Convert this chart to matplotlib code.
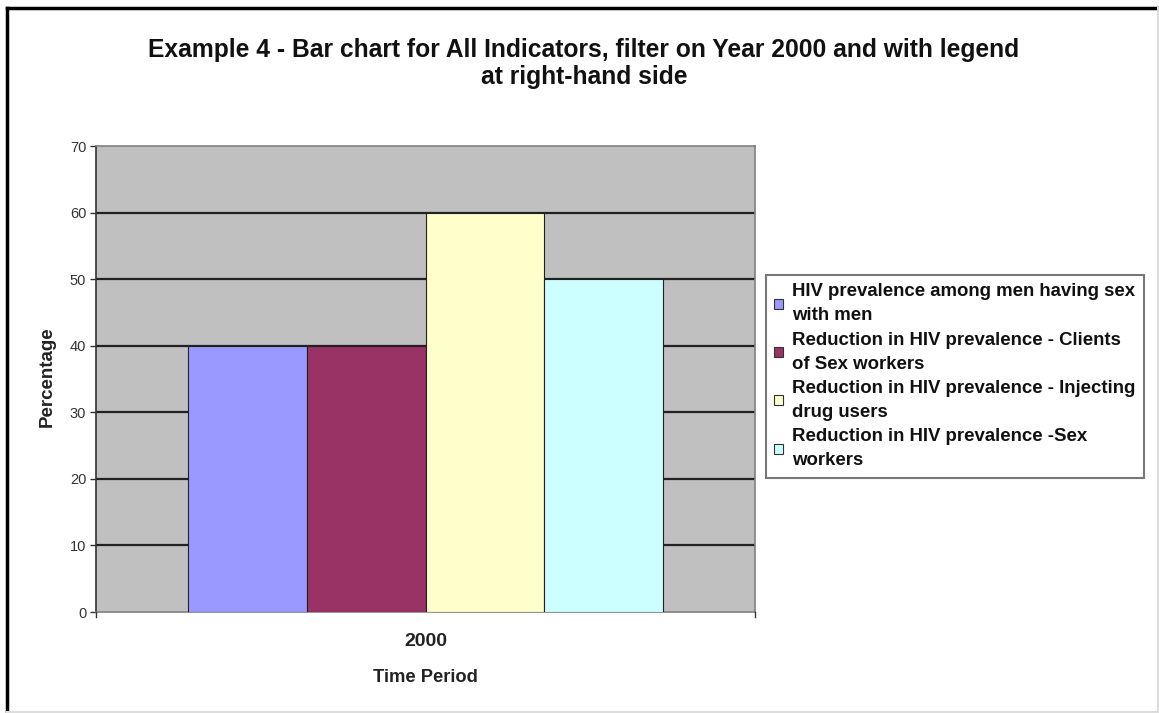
import matplotlib
matplotlib.use("Agg")
import matplotlib.pyplot as plt
from matplotlib.lines import Line2D
from matplotlib.patches import Patch

plt.rcParams['font.family'] = ['Liberation Sans', 'DejaVu Sans']

# Data
period = "2000"
indicators = [
    "HIV prevalence among men having sex\nwith men",
    "Reduction in HIV prevalence - Clients\nof Sex workers",
    "Reduction in HIV prevalence - Injecting\ndrug users",
    "Reduction in HIV prevalence -Sex\nworkers",
]
values = [40, 40, 60, 50]
colors = ["#9999FF", "#993366", "#FFFFCC", "#CCFFFF"]
yticks = [0, 10, 20, 30, 40, 50, 60, 70]

W, H = 1159, 713
fig = plt.figure(figsize=(W / 100, H / 100), dpi=100)
fig.patch.set_facecolor("white")

ax = fig.add_axes([96 / W, 1 - 612 / H, (755 - 96) / W, (612 - 146) / H])
ax.set_facecolor("#C0C0C0")

n = len(values)
group_width = 0.72
bw = group_width / n
for i, (v, c, lab) in enumerate(zip(values, colors, indicators)):
    x = -group_width / 2 + bw * (i + 0.5)
    ax.bar(x, v, width=bw, color=c, edgecolor="#202020", linewidth=0.8,
           label=lab, zorder=3)

ax.set_xlim(-0.5, 0.5)
ax.set_ylim(0, 70)
ax.set_yticks(yticks)
ax.set_yticklabels([str(t) for t in yticks], fontsize=10.5, color="#333333")
ax.set_xticks([0])
ax.set_xticklabels([period], fontsize=14, fontweight="bold", color="#222222")
ax.tick_params(axis="x", length=0, pad=15)
ax.tick_params(axis="y", direction="out", length=4, width=1, color="#333333", pad=3)

# category boundary ticks on the x axis
for xb in (-0.5, 0.5):
    ax.plot([xb, xb], [0, -0.8], color="#333333", lw=1, clip_on=False, zorder=5)

for t in yticks[1:-1]:
    ax.axhline(t, color="#222222", lw=1.6, zorder=1)

for side in ("top", "right", "bottom"):
    ax.spines[side].set_color("#808080")
    ax.spines[side].set_linewidth(1.2)
ax.spines["left"].set_color("#333333")
ax.spines["left"].set_linewidth(1.2)

fig.text(47 / W, 1 - 377 / H, "Percentage", rotation=90, ha="center", va="center",
         fontsize=13.5, fontweight="bold", color="#222222")
fig.text(425 / W, 1 - 682 / H, "Time Period", ha="center", va="baseline",
         fontsize=13.2, fontweight="bold", color="#222222")

fig.text(584 / W, 1 - 57 / H,
         "Example 4 - Bar chart for All Indicators, filter on Year 2000 and with legend",
         ha="center", va="baseline", fontsize=17.7, fontweight="bold", color="#111111")
fig.text(584 / W, 1 - 84 / H, "at right-hand side",
         ha="center", va="baseline", fontsize=17.7, fontweight="bold", color="#111111")

handles = [Patch(facecolor=c, edgecolor="#333333", linewidth=0.8) for c in colors]
leg = fig.legend(handles, indicators, loc="upper left",
                 bbox_to_anchor=(766 / W, 1 - 275 / H),
                 frameon=True, fancybox=False,
                 handlelength=0.45, handleheight=0.45, handletextpad=0.5,
                 labelspacing=0.4, borderpad=0.45, borderaxespad=0,
                 prop={"weight": "bold", "size": 13.4})
leg.get_frame().set_edgecolor("#555555")
leg.get_frame().set_linewidth(1.5)
for t in leg.get_texts():
    t.set_color("#111111")
    t.set_linespacing(1.53)

# outer frame of the figure
fig.add_artist(Line2D([7 / W, 7 / W], [0, 1 - 8 / H], color="black", lw=2.5,
                      transform=fig.transFigure))
fig.add_artist(Line2D([7 / W, 1], [1 - 8 / H, 1 - 8 / H], color="black", lw=2.5,
                      transform=fig.transFigure))
fig.add_artist(Line2D([1157.5 / W, 1157.5 / W], [0, 1 - 8 / H], color="#dddddd", lw=1.5,
                      transform=fig.transFigure))
fig.add_artist(Line2D([7 / W, 1], [1.5 / H, 1.5 / H], color="#dddddd", lw=1.5,
                      transform=fig.transFigure))

fig.savefig("out.png", dpi=100)
